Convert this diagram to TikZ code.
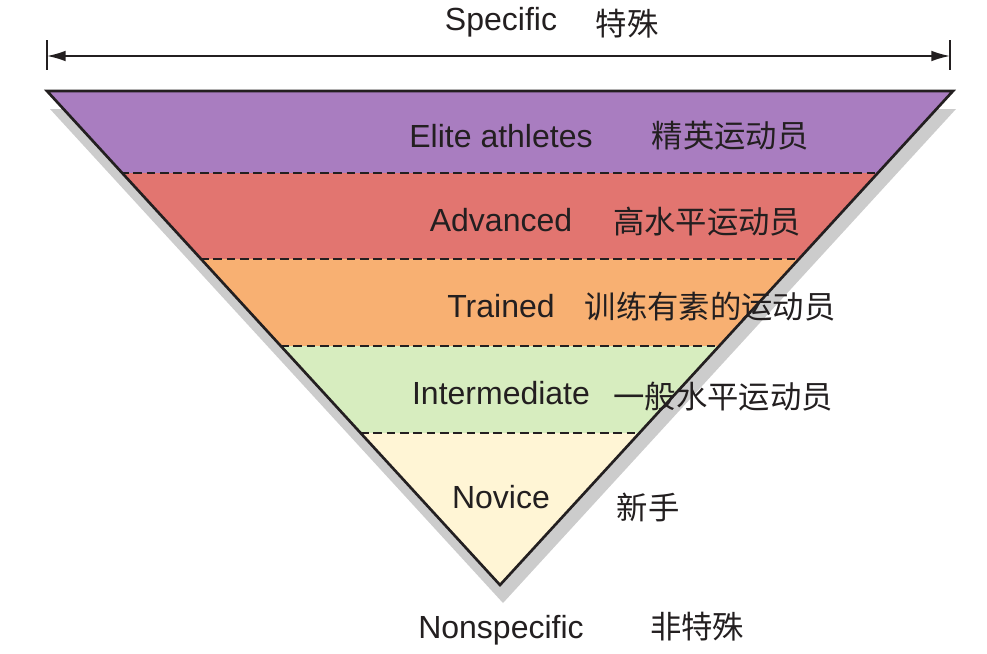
\documentclass[tikz,border=0pt]{standalone}
\usepackage{fontspec}
\setmainfont{Liberation Sans}
\newfontfamily\cjk{Noto Sans CJK SC}
\usetikzlibrary{arrows.meta,positioning}
\definecolor{clrElite}{RGB}{169,125,192}
\definecolor{clrAdvanced}{RGB}{226,117,112}
\definecolor{clrTrained}{RGB}{248,176,114}
\definecolor{clrInter}{RGB}{215,237,191}
\definecolor{clrNovice}{RGB}{255,245,213}
\definecolor{clrShadow}{RGB}{204,204,204}
\definecolor{clrInk}{RGB}{35,31,32}
\tikzset{
  spanarrow/.style={{Latex[length=14pt,width=8pt]}-{Latex[length=14pt,width=8pt]}, line width=1.2pt, draw=clrInk},
  spantick/.style={line width=1.2pt, draw=clrInk},
  bandline/.style={dash pattern=on 6.5pt off 3.5pt, line width=1.1pt, draw=clrInk},
  enlabel/.style={text=clrInk, font=\fontsize{24}{28}\selectfont, inner sep=0pt},
  cnlabel/.style={text=clrInk, font=\cjk\fontsize{23.5}{28}\selectfont, inner sep=0pt}
}

\begin{document}
\begin{tikzpicture}[x=0.75pt, y=-0.75pt]
\useasboundingbox (0,0) rectangle (987,653);

% corners of the funnel
\coordinate (tl) at (47,91);
\coordinate (tr) at (953,91);
\coordinate (apex) at (500,585);

% shadow
\fill[clrShadow] ([shift={(3,18)}]tl) -- ([shift={(3,18)}]tr) -- ([shift={(3,18)}]apex) -- cycle;

% bands
\begin{scope}
  \clip (tl) -- (tr) -- (apex) -- cycle;
  \fill[clrElite] (40,85) rectangle (960,173);
  \fill[clrAdvanced] (40,173) rectangle (960,259);
  \fill[clrTrained] (40,259) rectangle (960,346);
  \fill[clrInter] (40,346) rectangle (960,433);
  \fill[clrNovice] (40,433) rectangle (960,600);
  \foreach \yy in {173,259,346,433}
    \draw[bandline] (40,\yy) -- (960,\yy);
\end{scope}
\draw[line width=2pt, draw=clrInk, line join=miter] (tl) -- (tr) -- (apex) -- cycle;

% span arrow
\coordinate (spanL) at (47,56);
\coordinate (spanR) at (950,56);
\draw[spantick] (47,40) -- (47,70);
\draw[spantick] (950,40) -- (950,70);
\draw[spanarrow] (spanL) -- (spanR);

% labels
\node[enlabel] (specific) at (501,22) {Specific};
\node[cnlabel] (specificCn) at (627,24) {特殊};
\node[enlabel] (elite) at (501,136) {Elite athletes};
\node[cnlabel] (eliteCn) at (730,136) {精英运动员};
\node[enlabel] (advanced) at (501,220) {Advanced};
\node[cnlabel] (advancedCn) at (707,222) {高水平运动员};
\node[enlabel] (trained) at (501,306) {Trained};
\node[cnlabel] (trainedCn) at (710,307) {训练有素的运动员};
\node[enlabel] (inter) at (501,393) {Intermediate};
\node[cnlabel] (interCn) at (723,397) {一般水平运动员};
\node[enlabel] (novice) at (501,497) {Novice};
\node[cnlabel] (noviceCn) at (648,507) {新手};
\node[enlabel] (nonspecific) at (501,630) {Nonspecific};
\node[cnlabel] (nonspecificCn) at (697,627) {非特殊};

\end{tikzpicture}
\end{document}
